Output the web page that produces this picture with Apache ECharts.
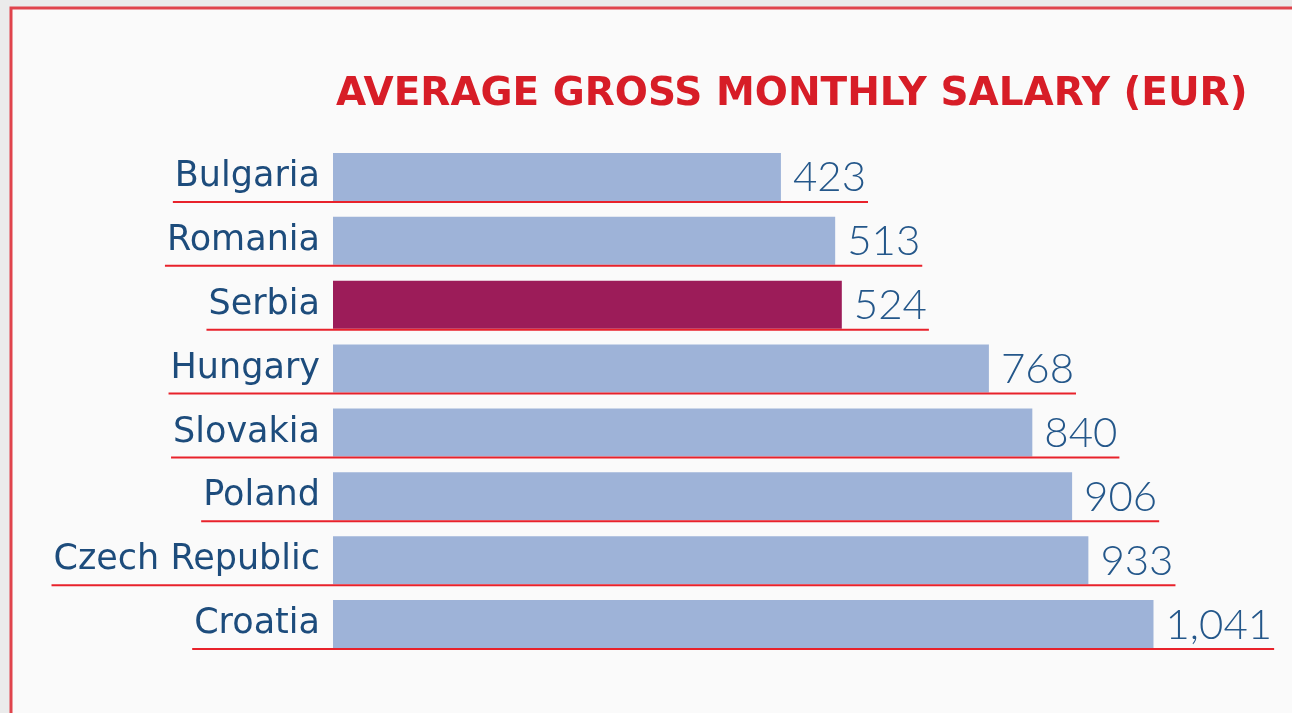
<!DOCTYPE html>
<html>
<head>
<meta charset="utf-8">
<title>Average gross monthly salary</title>
<script src="https://cdn.jsdelivr.net/npm/echarts@6/dist/echarts.min.js"></script>
<style>
  html, body { margin: 0; padding: 0; background: #ebebeb; }
  #chart { width: 1292px; height: 713px; }
</style>
</head>
<body>
<div id="chart"></div>
<script>
var countries = ['Bulgaria', 'Romania', 'Serbia', 'Hungary', 'Slovakia', 'Poland', 'Czech Republic', 'Croatia'];
var salaries = [423, 513, 524, 768, 840, 906, 933, 1041];
var highlightCountry = 'Serbia';

// the infographic bars do not start at zero, they start well left of it
var axisMin = -320;
var axisMax = 1080;

var catFont = "35px 'DejaVu Sans'";
var valFont = "300 42px Lato";

var ctx = document.createElement('canvas').getContext('2d');
function textWidth(txt, font) {
  ctx.font = font;
  return ctx.measureText(txt).width;
}

var myChart = echarts.init(document.getElementById('chart'));

var seriesData = [];
for (var i = 0; i < salaries.length; i++) {
  seriesData.push([salaries[i], i]);
}

var option = {
  backgroundColor: '#ebebeb',
  animation: false,
  graphic: [
    {
      type: 'rect',
      z: -10,
      shape: { x: 11, y: 8, width: 1300, height: 720 },
      style: { fill: '#fafafa', stroke: '#e0444c', lineWidth: 3 }
    }
  ],
  title: {
    text: 'AVERAGE GROSS MONTHLY SALARY (EUR)',
    left: 331,
    top: 70,
    textStyle: {
      color: '#d71d27',
      fontFamily: 'DejaVu Sans',
      fontWeight: 'bold',
      fontSize: 39
    }
  },
  grid: {
    left: 333,
    right: 115,
    top: 145,
    bottom: 57
  },
  xAxis: {
    type: 'value',
    min: axisMin,
    max: axisMax,
    show: false
  },
  yAxis: {
    type: 'category',
    inverse: true,
    data: countries,
    axisLine: { show: false },
    axisTick: { show: false },
    splitLine: { show: false },
    axisLabel: {
      margin: 13,
      color: '#1d4c7c',
      fontFamily: 'DejaVu Sans',
      fontSize: 35
    }
  },
  series: [
    {
      type: 'custom',
      encode: { x: 0, y: 1 },
      data: seriesData,
      renderItem: function (params, api) {
        var val = api.value(0);
        var idx = api.value(1);
        var start = api.coord([axisMin, idx]);
        var end = api.coord([val, idx]);
        var barH = api.size([0, 1])[1] * 0.75;
        var top = start[1] - barH / 2;
        var bottom = start[1] + barH / 2;
        var label = val.toLocaleString('en-US');
        var lineLeft = start[0] - 13 - textWidth(countries[idx], catFont) - 2;
        var lineRight = end[0] + 12 + textWidth(label, valFont) + 2;
        return {
          type: 'group',
          children: [
            {
              type: 'rect',
              shape: { x: start[0], y: top, width: end[0] - start[0], height: barH },
              style: { fill: countries[idx] === highlightCountry ? '#9c1c59' : '#9eb3d8' }
            },
            {
              type: 'text',
              style: {
                text: label,
                x: end[0] + 12,
                y: start[1] + 1,
                font: valFont,
                fill: '#24578a',
                align: 'left',
                verticalAlign: 'middle'
              }
            },
            {
              type: 'line',
              shape: { x1: lineLeft, y1: bottom + 1, x2: lineRight, y2: bottom + 1 },
              style: { stroke: '#e8222b', lineWidth: 2 }
            }
          ]
        };
      }
    }
  ]
};

myChart.setOption(option);
</script>
</body>
</html>
